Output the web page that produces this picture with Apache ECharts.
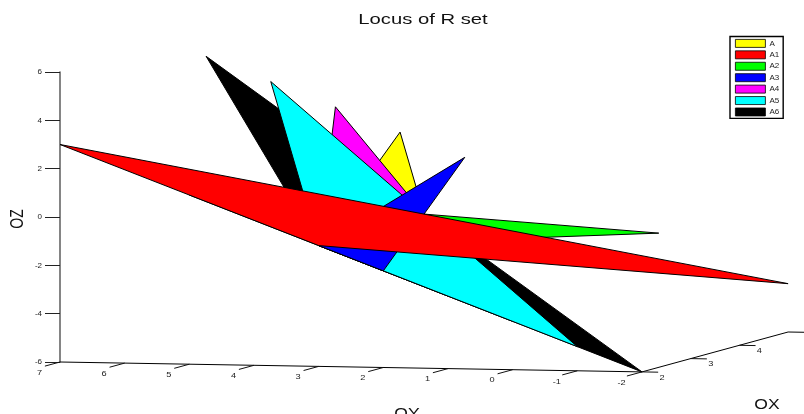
<!DOCTYPE html>
<html><head><meta charset="utf-8">
<style>html,body{margin:0;padding:0;background:#fff;overflow:hidden}#c{width:804px;height:414px}</style>
<script src="https://cdn.jsdelivr.net/npm/echarts@6/dist/echarts.min.js"></script>
</head><body><div id="c"></div>
<script>
// Patch names, legend order
var names = ['A','A1','A2','A3','A4','A5','A6'];
var colors = ['#ffff00','#ff0000','#00ff00','#0000ff','#ff00ff','#00ffff','#000000'];
// stacking rank (higher is in front)
var rank = [1,7,4,6,2,5,3];
// triangle vertices: [OX, OY, OZ]
var A  = [[5,4,2],[2,3,-1],[2,1,-3]];
var A1 = [[5,-2,-4],[2,3,-1],[2,7,3]];
var A2 = [[5,0,-2],[2,3,-1],[2,5,1]];
var A3 = [[5,3,1],[2,3,-1],[2,2,-2]];
var A4 = [[5,5,3],[2,3,-1],[2,0,-4]];
var A5 = [[5,6,4],[2,3,-1],[2,-1,-5]];
var A6 = [[5,7,5],[2,3,-1],[2,-2,-6]];
var patches = [A,A1,A2,A3,A4,A5,A6];
// axis ticks
var oyTicks = [7,6,5,4,3,2,1,0,-1,-2];
var oxTicks = [2,3,4];
var ozMin = -6, ozMax = 6, oyMin = -2, oyMax = 7, oxMin = 2, oxMax = 5;

// oblique view: turns (OX,OY,OZ) into the (OY,OZ) plane of the cartesian grid
var OX_IN_OY = 48.7/64.67, OX_IN_OZ = 13.3/24.17, OY_IN_OZ = 1.1/24.17;
function project(api,p){
  var dx = p[0]-oxMin, dy = oyMax-p[1];
  return api.coord([p[1]-dx*OX_IN_OY, p[2]+dx*OX_IN_OZ-dy*OY_IN_OZ]);
}
function line(api,a,b,color,w){
  var s=project(api,a), e=project(api,b);
  return {type:'line',silent:true,shape:{x1:s[0],y1:s[1],x2:e[0],y2:e[1]},style:{stroke:color,lineWidth:w}};
}
function label(api,a,dx,dy,t){
  var s=project(api,a);
  return {type:'text',silent:true,x:s[0]+dx,y:s[1]+dy,scaleX:1.15,
    style:{text:String(t),fill:'#222',font:'8px "Liberation Sans"',textAlign:'center',textVerticalAlign:'middle'}};
}
function renderAxes(params,api){
  var ch=[];
  ch.push(line(api,[oxMin,oyMax,ozMin],[oxMin,oyMin,ozMin],'#000',1));
  ch.push(line(api,[oxMin,oyMin,ozMin],[oxMax,oyMin,ozMin],'#000',1));
  ch.push(line(api,[oxMax,oyMin,ozMin],[oxMax,oyMin-0.26,ozMin],'#000',1));
  oyTicks.forEach(function(v){
    ch.push(line(api,[oxMin,v,ozMin],[oxMin-0.31,v,ozMin],'#111',1));
    ch.push(label(api,[oxMin,v,ozMin],-20.5,10.5,v));
  });
  oxTicks.forEach(function(v){
    ch.push(line(api,[v,oyMin,ozMin],[v,oyMin-0.25,ozMin],'#111',1));
    ch.push(label(api,[v,oyMin,ozMin],20,5.5,v));
  });
  return {type:'group',children:ch};
}
var series = [{type:'custom',name:'axes',silent:true,z:1,coordinateSystem:'cartesian2d',data:[[0,0]],renderItem:renderAxes,clip:false}];
names.forEach(function(n,i){
  series.push({type:'custom',name:n,z:2+rank[i],coordinateSystem:'cartesian2d',clip:false,silent:true,
    itemStyle:{color:colors[i]},data:[[0,0]],
    renderItem:function(params,api){
      return {type:'polygon',shape:{points:patches[i].map(function(p){return project(api,p);})},
        style:{fill:colors[i],stroke:'#000',lineWidth:1,lineJoin:'miter'}};
    }});
});
var chart = echarts.init(document.getElementById('c'),null,{renderer:'canvas'});
chart.setOption({
  animation:false,backgroundColor:'#fff',
  grid:{left:60,right:162,top:72,bottom:52,containLabel:false},
  xAxis:{type:'value',min:oyMin,max:oyMax,inverse:true,show:false},
  yAxis:{type:'value',min:ozMin,max:ozMax,interval:2,position:'left',
    axisLine:{show:true,onZero:false,lineStyle:{color:'#666',width:1.6}},
    axisTick:{show:true,length:15,lineStyle:{color:'#222',width:1}},
    axisLabel:{color:'#222',fontSize:8,fontFamily:'Liberation Sans',margin:18},
    splitLine:{show:false}},
  legend:{data:names,orient:'vertical',left:730,top:36.5,itemWidth:30,itemHeight:8,itemGap:2.63,icon:'rect',
    padding:[2.5,4,2,5],borderColor:'#000',borderWidth:1.4,backgroundColor:'#fff',selectedMode:false,
    itemStyle:{borderColor:'#000',borderWidth:0.8},inactiveColor:'#000',
    textStyle:{color:'#222',fontSize:8,lineHeight:8,fontFamily:'Liberation Sans',padding:[0,0,0,-1]}},
  graphic:[
    {type:'text',silent:true,x:423,y:20,scaleX:1.35,style:{text:'Locus of R set',fill:'#111',font:'15px "Liberation Sans"',textAlign:'center',textVerticalAlign:'middle'}},
    {type:'text',silent:true,x:18,y:219,rotation:Math.PI/2,scaleX:1,scaleY:1.3,style:{text:'OZ',fill:'#111',font:'14px "Liberation Sans"',textAlign:'center',textVerticalAlign:'middle'}},
    {type:'text',silent:true,x:407,y:414,scaleX:1.25,style:{text:'OY',fill:'#111',font:'14px "Liberation Sans"',textAlign:'center',textVerticalAlign:'middle'}},
    {type:'text',silent:true,x:767,y:405,scaleX:1.25,style:{text:'OX',fill:'#111',font:'14px "Liberation Sans"',textAlign:'center',textVerticalAlign:'middle'}}
  ],
  series:series
});
</script></body></html>
